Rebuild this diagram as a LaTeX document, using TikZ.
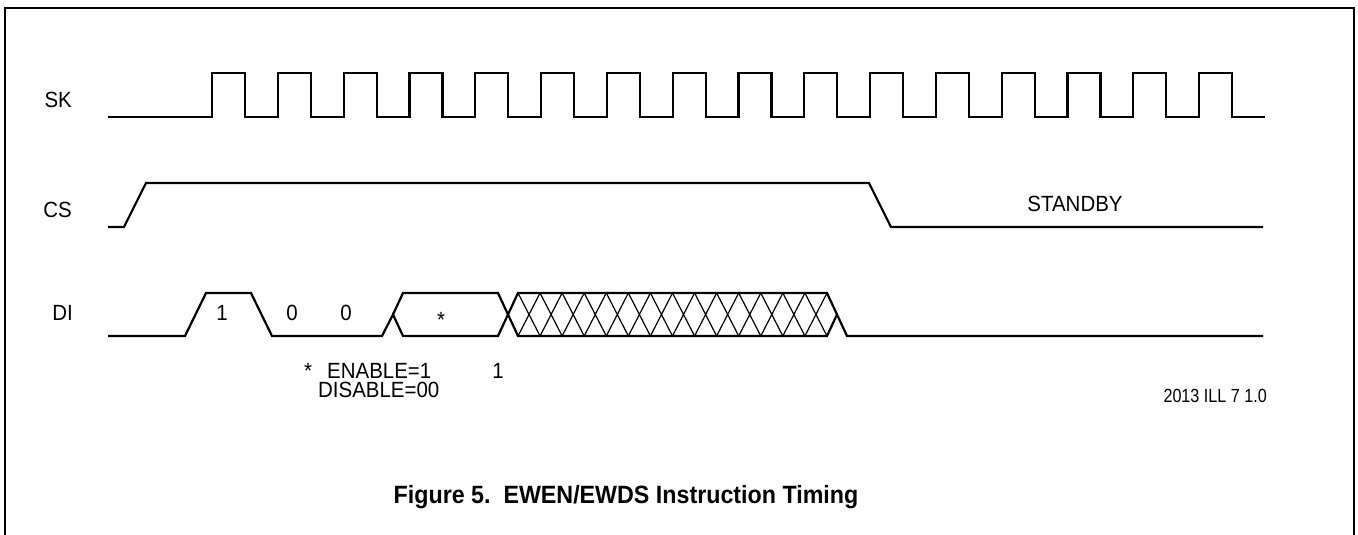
\documentclass[tikz,border=0pt]{standalone}
\usepackage{fontspec}
\setmainfont[FakeStretch=0.93]{Liberation Sans}
\newfontfamily\illfont[FakeStretch=0.85]{Liberation Sans}

\begin{document}
\begin{tikzpicture}[x=1pt,y=-1pt,
  wave/.style={line width=2.2pt,line join=miter},
  hatch/.style={line width=1.2pt},
  sig/.style={anchor=base east,inner sep=0pt,font=\fontsize{22}{26}\selectfont},
  lbl/.style={anchor=base,inner sep=0pt,font=\fontsize{22}{26}\selectfont},
  note/.style={lbl,anchor=base west,text height=16pt,text depth=0pt}]
\useasboundingbox (0,0) rectangle (1358,535);
\draw[line width=1.3pt] (5,535) -- (5,8) -- (1354,8) -- (1354,535);

\path (72,107) node[sig] (SK) {SK};
\path (72,217) node[sig] (CS) {CS};
\path (73,320) node[sig] (DI) {DI};

% SK
\draw[wave] (108,117) -- (212,117)
  \foreach \k in {0,...,15} {-- ++(0,-44) -- ++(33,0) -- ++(0,44) -- ++(32.8,0)};

% CS
\draw[wave] (108,227) -- (124,227) -- (146,183) -- (869,183) -- (891,227) -- (1263,227);
\path (1075,211) node[lbl] (standby) {STANDBY};

% DI
\draw[wave] (108,336) -- (185,336) -- (206,293) -- (251,293) -- (272,336) -- (382,336)
  -- (393,314.5) -- (403,336) -- (498,336) -- (518,293) -- (827,293) -- (847,336) -- (1263,336);
\draw[wave] (393,314.5) -- (403,293) -- (498,293) -- (518,336) -- (827,336) -- (837,314.5);
\foreach \k in {0,...,13}
  \draw[hatch] (518+22.07*\k,293) -- ++(22.07,43) (540.07+22.07*\k,293) -- ++(-22.07,43);
\path (222,320) node[lbl] (b1) {1};
\path (292,320) node[lbl] (b2) {0};
\path (346,320) node[lbl] (b3) {0};
\path (441,327) node[lbl] (star) {*};

\path (308,378) node[lbl] (mark) {*};
\path (327,378) node[note] (enable) {ENABLE=1};
\path (498,378) node[lbl] (one) {1};
\path (318,397) node[note] (disable) {DISABLE=00};

\path (1267,402) node[lbl,anchor=base east,font=\fontsize{19}{22}\illfont] (ill) {2013 ILL 7 1.0};
\path (626,503) node[lbl,font=\fontsize{25}{30}\selectfont\bfseries] (title) {Figure 5.\ \ EWEN/EWDS Instruction Timing};
\end{tikzpicture}
\end{document}
